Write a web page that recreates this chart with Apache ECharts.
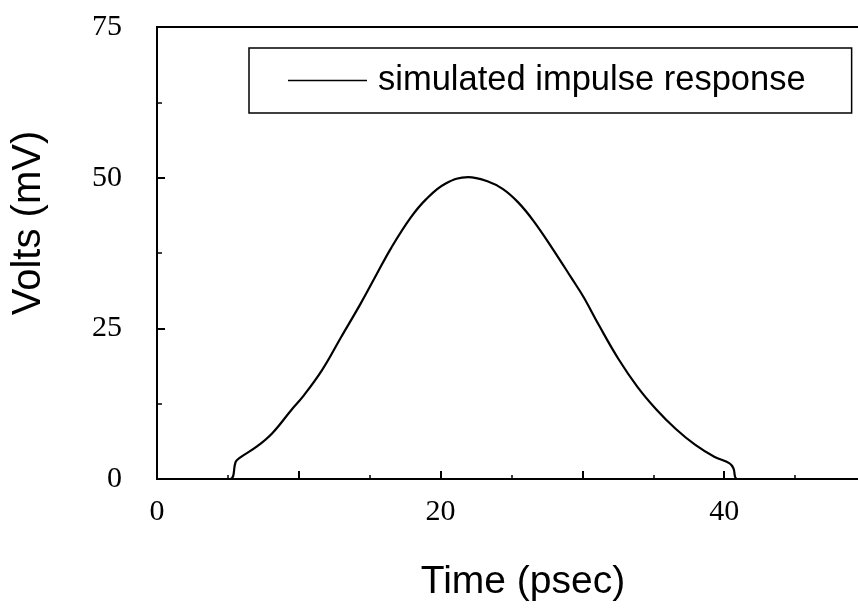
<!DOCTYPE html>
<html>
<head>
<meta charset="utf-8">
<script src="https://cdn.jsdelivr.net/npm/echarts@6/dist/echarts.min.js"></script>
<style>
html,body{margin:0;padding:0;background:#fff;overflow:hidden;}
#chart{width:858px;height:612px;}
</style>
</head>
<body>
<div id="chart"></div>
<script>
var timePs = [0, 3, 5.15, 5.56, 5.83, 7.05, 8.13, 9.49, 10.3, 11.65, 13.0, 14.36, 15.45, 16.53, 17.9, 18.97, 20.33, 21.95, 23.3, 24.4, 25.47, 26.56, 27.9, 29.27, 30.08, 31.17, 32.52, 33.88, 35.23, 36.59, 37.94, 39.3, 40.38, 40.65, 40.92, 45, 50];
var voltsMv = [0, 0, 0, 2.9, 3.5, 5.4, 7.6, 11.5, 13.7, 18.1, 23.6, 29.1, 33.8, 38.4, 43.4, 46.4, 49.0, 50.1, 49.4, 48.1, 45.9, 42.8, 38.2, 33.2, 30.2, 25.5, 20.0, 15.3, 11.5, 8.3, 5.7, 3.7, 2.6, 1.8, 0, 0, 0];
var xTickLabels = ['0', '20', '40'];
var yTickLabels = ['0', '25', '50', '75'];
var seriesName = 'simulated impulse response';

var data = timePs.map(function (t, i) { return [t, voltsMv[i]]; });
var chart = echarts.init(document.getElementById('chart'), null, {renderer: 'canvas'});
var serif = 'Liberation Serif, Times New Roman, serif';
var sans = 'Liberation Sans, Arial, sans-serif';
chart.setOption({
  animation: false,
  backgroundColor: '#fff',
  grid: {left: 157, width: 709, top: 27, bottom: 133, show: true, borderColor: '#000', borderWidth: 2,
    backgroundColor: 'transparent', containLabel: false, outerBoundsMode: 'none'},
  legend: {
    left: 249, top: 48,
    padding: [15, 46, 15, 39],
    borderColor: '#000', borderWidth: 1.5,
    icon: 'rect', itemWidth: 79, itemHeight: 1.5,
    itemStyle: {color: '#000'},
    textStyle: {fontFamily: sans, fontSize: 34.5, color: '#000', padding: [0, 0, 0, 6]},
    data: [seriesName]
  },
  xAxis: {
    type: 'value', min: 0, max: 50, interval: 10,
    name: 'Time (psec)', nameLocation: 'middle', nameGap: 84,
    nameTextStyle: {fontFamily: sans, fontSize: 39, color: '#000', padding: [0, 0, 0, 23]},
    axisLine: {lineStyle: {color: '#000', width: 2}},
    axisTick: {inside: true, length: 8, lineStyle: {color: '#000', width: 2}},
    minorTick: {show: true, splitNumber: 2, length: 4, lineStyle: {color: '#000', width: 1.5}},
    splitLine: {show: false},
    axisLabel: {margin: 18, fontFamily: serif, fontSize: 30, color: '#000',
      formatter: function (v) { var s = String(v); return xTickLabels.indexOf(s) >= 0 ? s : ''; }}
  },
  yAxis: {
    type: 'value', min: 0, max: 75, interval: 25,
    name: 'Volts (mV)', nameLocation: 'middle', nameGap: 108,
    nameTextStyle: {fontFamily: sans, fontSize: 40, color: '#000', padding: [0, 0, 0, 60]},
    axisLine: {lineStyle: {color: '#000', width: 2}},
    axisTick: {inside: true, length: 8, lineStyle: {color: '#000', width: 2}},
    minorTick: {show: true, splitNumber: 2, length: 5, lineStyle: {color: '#000', width: 1.5}},
    splitLine: {show: false},
    axisLabel: {margin: 35, fontFamily: serif, fontSize: 30, color: '#000',
      formatter: function (v) { var s = String(v); return yTickLabels.indexOf(s) >= 0 ? s : ''; }}
  },
  series: [{
    name: seriesName, type: 'line', data: data, symbol: 'none', smooth: 0.4,
    lineStyle: {color: '#000', width: 2.2}, itemStyle: {color: '#000'}
  }]
});
</script>
</body>
</html>
